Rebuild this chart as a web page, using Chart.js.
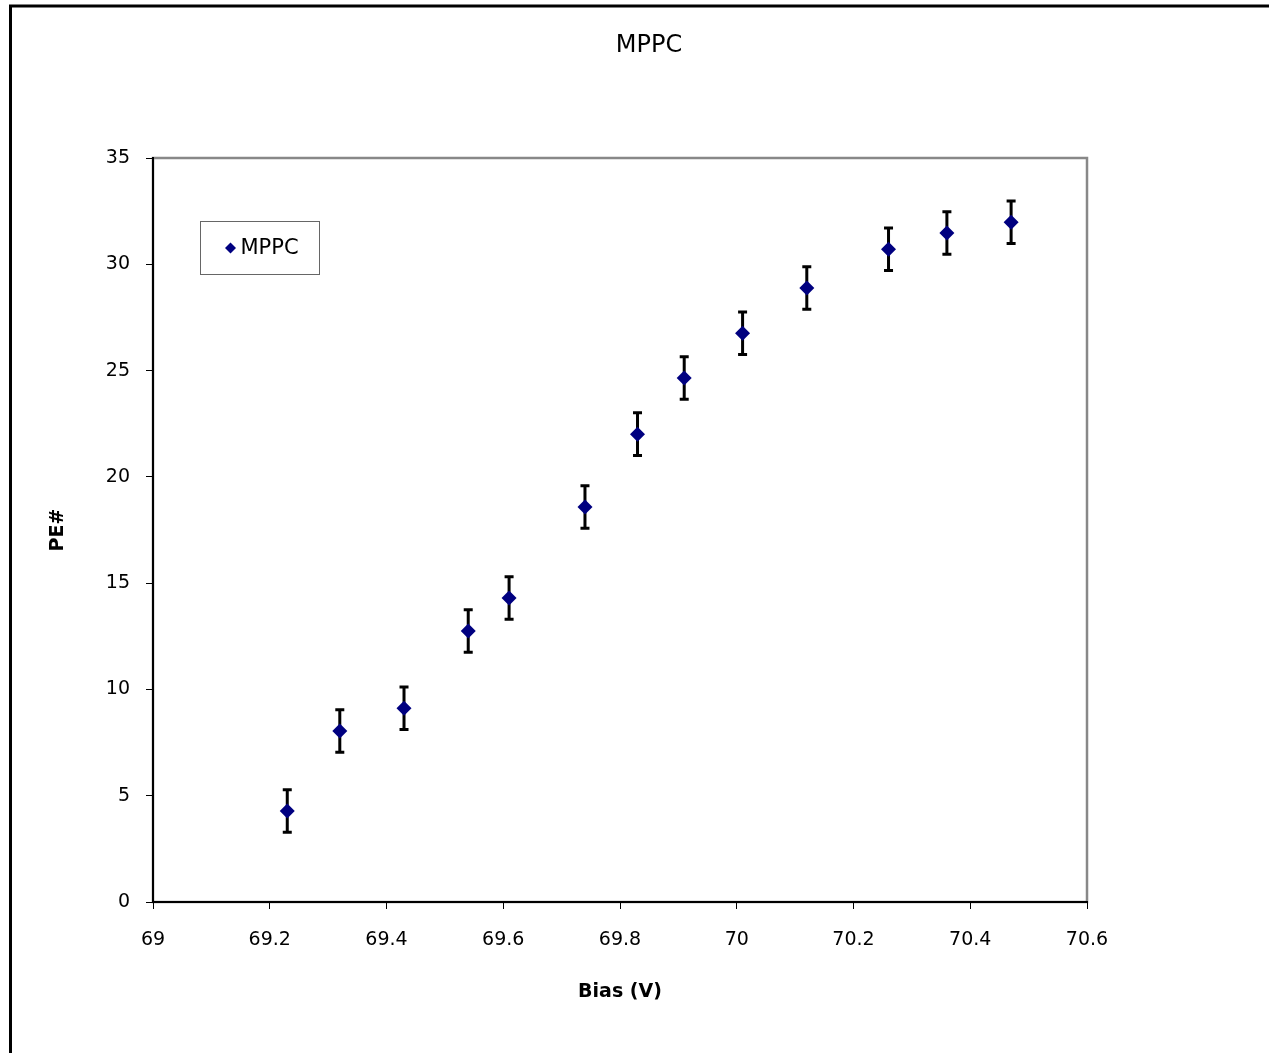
<!DOCTYPE html>
<html>
<head>
<meta charset="utf-8">
<title>MPPC</title>
<script src="https://cdn.jsdelivr.net/npm/chart.js@4.4.1/dist/chart.umd.min.js"></script>
<style>
    html, body { margin: 0; padding: 0; background: #fff; overflow: hidden; }
    #wrap { position: relative; width: 1269px; height: 1053px; }
</style>
</head>
<body>
<div id="wrap"><canvas id="mppc-chart"></canvas></div>
<script>
(function () {
    'use strict';

    // Valeurs
    var biasVolts = [69.23, 69.32, 69.43, 69.54, 69.61, 69.74, 69.83, 69.91, 70.01, 70.12, 70.26, 70.36, 70.47];
    var peCounts  = [4.28, 8.04, 9.12, 12.75, 14.30, 18.58, 22.01, 24.65, 26.76, 28.88, 30.71, 31.47, 31.98];
    var peErrors  = [1, 1, 1, 1, 1, 1, 1, 1, 1, 1, 1, 1, 1];

    var seriesName = 'MPPC';
    var xRange = { min: 69, max: 70.6, step: 0.2 };
    var yRange = { min: 0, max: 35, step: 5 };

    var FONT = '"DejaVu Sans", Arial, sans-serif';
    var markerColor = '#000080';

    var points = biasVolts.map(function (x, i) {
        return { x: x, y: peCounts[i], err: peErrors[i] };
    });

    // Barres d'erreur, dessinées sous les marqueurs
    var errorBars = {
        id: 'errorBars',
        beforeDatasetsDraw: function (chart) {
            var ctx = chart.ctx;
            var xs = chart.scales.x;
            var ys = chart.scales.y;
            ctx.save();
            ctx.strokeStyle = '#000';
            ctx.lineWidth = 3;
            chart.data.datasets[0].data.forEach(function (p) {
                var px = xs.getPixelForValue(p.x);
                var top = ys.getPixelForValue(p.y + p.err);
                var bot = ys.getPixelForValue(p.y - p.err);
                ctx.beginPath();
                ctx.moveTo(px, top);
                ctx.lineTo(px, bot);
                ctx.moveTo(px - 4.5, top);
                ctx.lineTo(px + 4.5, top);
                ctx.moveTo(px - 4.5, bot);
                ctx.lineTo(px + 4.5, bot);
                ctx.stroke();
            });
            ctx.restore();
        }
    };

    // Cadre gris du graphique, cadre extérieur et légende encadrée
    var frame = {
        id: 'frame',
        beforeDraw: function (chart) {
            var ctx = chart.ctx;
            var a = chart.chartArea;
            ctx.save();
            ctx.strokeStyle = '#888';
            ctx.lineWidth = 2.5;
            ctx.strokeRect(a.left, a.top, a.right - a.left, a.bottom - a.top);

            ctx.strokeStyle = '#000';
            ctx.lineWidth = 3;
            ctx.beginPath();
            ctx.moveTo(10.5, chart.height + 2);
            ctx.lineTo(10.5, 6);
            ctx.lineTo(chart.width + 2, 6);
            ctx.stroke();
            ctx.restore();
        },
        afterDraw: function (chart) {
            var ctx = chart.ctx;
            var a = chart.chartArea;
            var bx = a.left + 47.5, by = a.top + 63.5;
            ctx.save();
            ctx.fillStyle = '#fff';
            ctx.fillRect(bx, by, 119, 53);
            ctx.strokeStyle = '#666';
            ctx.lineWidth = 1;
            ctx.strokeRect(bx, by, 119, 53);

            var cx = bx + 30, cy = by + 26.5;
            ctx.fillStyle = markerColor;
            ctx.beginPath();
            ctx.moveTo(cx, cy - 5.5);
            ctx.lineTo(cx + 5.5, cy);
            ctx.lineTo(cx, cy + 5.5);
            ctx.lineTo(cx - 5.5, cy);
            ctx.closePath();
            ctx.fill();

            ctx.fillStyle = '#000';
            ctx.font = '21px ' + FONT;
            ctx.textBaseline = 'middle';
            ctx.textAlign = 'left';
            ctx.fillText(chart.data.datasets[0].label, bx + 40, cy + 1);
            ctx.restore();
        }
    };

    var canvas = document.getElementById('mppc-chart');

    new Chart(canvas, {
        type: 'scatter',
        data: {
            datasets: [{
                label: seriesName,
                data: points,
                pointStyle: 'rectRot',
                pointRadius: 7.5,
                pointHoverRadius: 7.5,
                backgroundColor: markerColor,
                borderColor: markerColor,
                borderWidth: 0,
                showLine: false
            }]
        },
        options: {
            responsive: true,
            maintainAspectRatio: false,
            animation: false,
            events: [],
            layout: {
                padding: { left: 40, right: 11, top: 20, bottom: 19 }
            },
            plugins: {
                legend: { display: false },
                tooltip: { enabled: false },
                title: {
                    display: true,
                    text: seriesName,
                    color: '#000',
                    font: { family: FONT, size: 24, weight: 'normal' },
                    padding: { top: 11.6, bottom: 97.6 }
                }
            },
            scales: {
                x: {
                    type: 'linear',
                    position: 'bottom',
                    min: xRange.min,
                    max: xRange.max,
                    afterFit: function (scale) { scale.height = 132; },
                    ticks: {
                        stepSize: xRange.step,
                        color: '#000',
                        padding: 20,
                        font: { family: FONT, size: 19 },
                        callback: function (value) {
                            return String(Number(value.toFixed(1)));
                        }
                    },
                    grid: {
                        drawOnChartArea: false,
                        drawTicks: true,
                        tickLength: 7,
                        color: '#000',
                        lineWidth: 1
                    },
                    border: { color: '#000', width: 2 },
                    title: {
                        display: true,
                        text: 'Bias (V)',
                        color: '#000',
                        font: { family: FONT, size: 19, weight: 'bold' },
                        padding: { top: 0, bottom: 31 }
                    }
                },
                y: {
                    type: 'linear',
                    position: 'left',
                    min: yRange.min,
                    max: yRange.max,
                    afterFit: function (scale) { scale.width = 113; },
                    ticks: {
                        stepSize: yRange.step,
                        color: '#000',
                        padding: 16,
                        font: { family: FONT, size: 19 }
                    },
                    grid: {
                        drawOnChartArea: false,
                        drawTicks: true,
                        tickLength: 7,
                        color: '#000',
                        lineWidth: 1
                    },
                    border: { color: '#000', width: 2 },
                    title: {
                        display: true,
                        text: 'PE#',
                        color: '#000',
                        font: { family: FONT, size: 19, weight: 'bold' },
                        padding: { top: 7, bottom: 0 }
                    }
                },
                // axe vide à droite pour caler la zone de tracé
                spacer: {
                    type: 'linear',
                    position: 'right',
                    display: true,
                    afterFit: function (scale) { scale.width = 171; },
                    ticks: { display: false },
                    grid: { display: false },
                    border: { display: false },
                    title: { display: false }
                }
            }
        },
        plugins: [frame, errorBars]
    });
})();
</script>
</body>
</html>
